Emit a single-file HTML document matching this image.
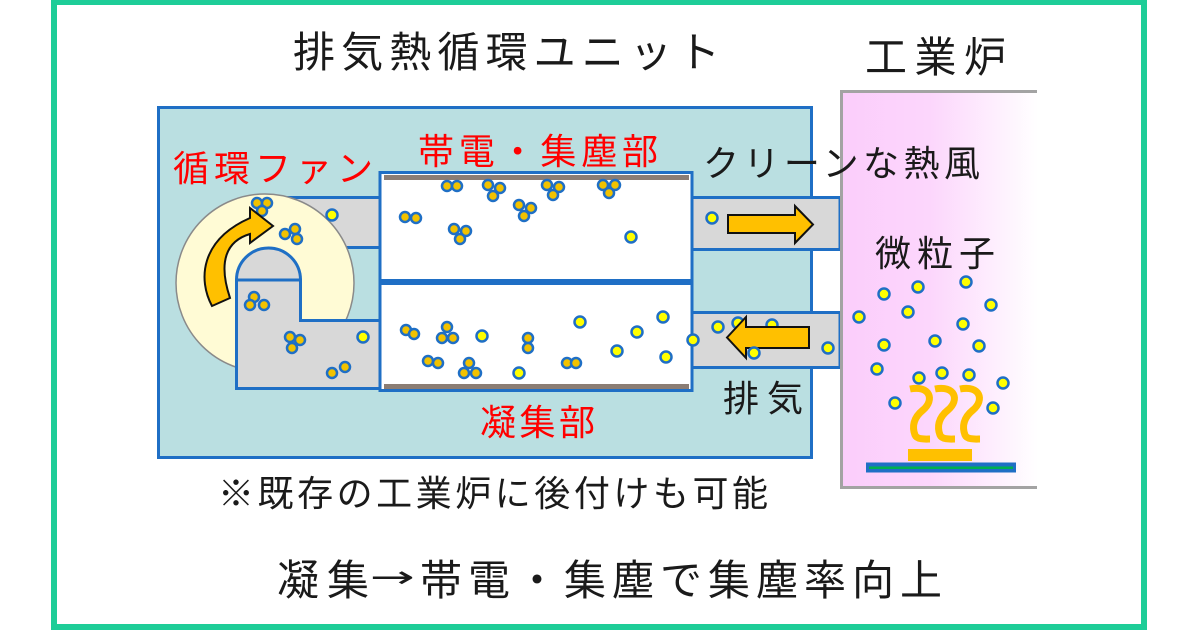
<!DOCTYPE html>
<html>
<head>
<meta charset="utf-8">
<style>
html,body{margin:0;padding:0;background:#fff;}
svg{display:block;}
text{font-family:"Liberation Sans","Noto Sans CJK JP",sans-serif;}
</style>
</head>
<body>
<svg width="1200" height="630" viewBox="0 0 1200 630" xmlns="http://www.w3.org/2000/svg">
<defs>
<linearGradient id="pk" x1="0" y1="0" x2="1" y2="0">
<stop offset="0" stop-color="#fbcdfb"/>
<stop offset="0.45" stop-color="#fcd6fc"/>
<stop offset="1" stop-color="#ffffff"/>
</linearGradient>
</defs>
<rect x="0" y="0" width="1200" height="630" fill="#fff"/>
<!-- green frame -->
<rect x="54" y="2" width="1090" height="625" fill="none" stroke="#1ecd98" stroke-width="6"/>

<!-- unit box -->
<rect x="158.5" y="107.5" width="653" height="350" fill="#badfe1" stroke="#1f6fc5" stroke-width="3"/>

<!-- upper left duct -->
<rect x="280" y="197.5" width="100" height="50" fill="#d8d8d8" stroke="#1f6fc5" stroke-width="3"/>
<!-- fan circle -->
<circle cx="265" cy="283" r="89" fill="#fffbd5" stroke="#8a8a8a" stroke-width="1.5"/>
<!-- lower L duct -->
<path d="M236.5 280 H300.5 V320.5 H380 V388.5 H236.5 Z" fill="#d8d8d8" stroke="#1f6fc5" stroke-width="3"/>
<path d="M236.5 280 A32 32 0 0 1 300.5 280 Z" fill="#d8d8d8" stroke="#1f6fc5" stroke-width="3"/>

<!-- chambers -->
<rect x="380" y="172.5" width="312" height="108" fill="#fff" stroke="#1f6fc5" stroke-width="3"/>
<rect x="380" y="283.5" width="312" height="107" fill="#fff" stroke="#1f6fc5" stroke-width="3"/>
<rect x="384" y="175" width="305" height="5" fill="#8b7d74"/>
<rect x="384" y="384" width="305" height="5" fill="#8b7d74"/>

<!-- right ducts -->
<rect x="692" y="197.5" width="148" height="52" fill="#d8d8d8" stroke="#1f6fc5" stroke-width="3"/>
<rect x="692" y="312.5" width="148" height="55" fill="#d8d8d8" stroke="#1f6fc5" stroke-width="3"/>

<!-- furnace -->
<rect x="841" y="91" width="197" height="397" fill="url(#pk)"/>
<path d="M1037 91.5 H841.5 V487.5 H1037" fill="none" stroke="#a3a3a3" stroke-width="3"/>
<!-- heat squiggles -->
<g fill="none" stroke="#ffc000" stroke-width="7" stroke-linecap="butt">
<path d="M910 389 C930 385,935 400,923 410 C913 418,912 427,915 435 C917 440,927 439,930 439"/>
<path d="M935 389 C955 385,960 400,948 410 C938 418,937 427,940 435 C942 440,952 439,955 439"/>
<path d="M960 389 C980 385,985 400,973 410 C963 418,962 427,965 435 C967 440,977 439,980 439"/>
</g>
<rect x="908" y="449" width="64" height="12" fill="#ffc000"/>
<rect x="866" y="462.5" width="150" height="10" fill="#1f6fc5"/>
<rect x="869" y="466.5" width="144" height="2.5" fill="#00b050"/>

<!-- particles: singles -->
<g fill="#ffff00" stroke="#1f6fc5" stroke-width="2.5">
<circle cx="332" cy="215" r="5.5"/>
<circle cx="363" cy="337" r="5.5"/>
<circle cx="631" cy="237" r="5.5"/>
<circle cx="482" cy="336" r="5.5"/>
<circle cx="580" cy="322" r="5.5"/>
<circle cx="637" cy="332" r="5.5"/>
<circle cx="663" cy="317" r="5.5"/>
<circle cx="617" cy="351" r="5.5"/>
<circle cx="666" cy="357" r="5.5"/>
<circle cx="519" cy="373" r="5.5"/>
<circle cx="693" cy="340" r="5.5"/>
<circle cx="712" cy="218" r="5.5"/>
<circle cx="718" cy="327" r="5.5"/>
<circle cx="738" cy="323" r="5.5"/>
<circle cx="772" cy="325" r="5.5"/>
<circle cx="828" cy="348" r="5.5"/>
<circle cx="859" cy="317" r="5.5"/>
<circle cx="884" cy="294" r="5.5"/>
<circle cx="918" cy="287" r="5.5"/>
<circle cx="966" cy="282" r="5.5"/>
<circle cx="991" cy="305" r="5.5"/>
<circle cx="908" cy="312" r="5.5"/>
<circle cx="963" cy="324" r="5.5"/>
<circle cx="884" cy="345" r="5.5"/>
<circle cx="935" cy="341" r="5.5"/>
<circle cx="979" cy="346" r="5.5"/>
<circle cx="877" cy="369" r="5.5"/>
<circle cx="919" cy="378" r="5.5"/>
<circle cx="942" cy="373" r="5.5"/>
<circle cx="969" cy="375" r="5.5"/>
<circle cx="1003" cy="383" r="5.5"/>
<circle cx="895" cy="403" r="5.5"/>
<circle cx="993" cy="408" r="5.5"/>
</g>
<!-- particles: clusters -->
<g fill="#f2c200" stroke="#1f6fc5" stroke-width="2.5">
<circle cx="257" cy="203" r="5"/><circle cx="267" cy="203" r="5"/><circle cx="262" cy="211" r="5"/>
<circle cx="285" cy="234" r="5"/><circle cx="295" cy="229" r="5"/><circle cx="297" cy="239" r="5"/>
<circle cx="254" cy="297" r="5"/><circle cx="250" cy="305" r="5"/><circle cx="264" cy="305" r="5"/>
<circle cx="290" cy="337" r="5"/><circle cx="300" cy="340" r="5"/><circle cx="292" cy="348" r="5"/>
<circle cx="332" cy="373" r="5"/><circle cx="345" cy="367" r="5"/>
<!-- upper chamber -->
<circle cx="447" cy="186" r="5"/><circle cx="457" cy="186" r="5"/>
<circle cx="488" cy="185" r="5"/><circle cx="500" cy="188" r="5"/><circle cx="493" cy="196" r="5"/>
<circle cx="547" cy="185" r="5"/><circle cx="559" cy="187" r="5"/><circle cx="553" cy="195" r="5"/>
<circle cx="603" cy="185" r="5"/><circle cx="615" cy="185" r="5"/><circle cx="609" cy="193" r="5"/>
<circle cx="405" cy="217" r="5"/><circle cx="416" cy="218" r="5"/>
<circle cx="519" cy="205" r="5"/><circle cx="531" cy="208" r="5"/><circle cx="524" cy="216" r="5"/>
<circle cx="454" cy="229" r="5"/><circle cx="466" cy="231" r="5"/><circle cx="460" cy="239" r="5"/>
<!-- lower chamber -->
<circle cx="406" cy="330" r="5"/><circle cx="414" cy="334" r="5"/>
<circle cx="447" cy="327" r="5"/><circle cx="442" cy="338" r="5"/><circle cx="453" cy="338" r="5"/>
<circle cx="528" cy="338" r="5"/><circle cx="528" cy="348" r="5"/>
<circle cx="428" cy="361" r="5"/><circle cx="438" cy="363" r="5"/>
<circle cx="469" cy="363" r="5"/><circle cx="464" cy="373" r="5"/><circle cx="476" cy="373" r="5"/>
<circle cx="567" cy="363" r="5"/><circle cx="576" cy="363" r="5"/>
</g>

<!-- fan arrow -->
<path d="M212 306 C198 280,200 240,250 218 L250 208 L273 226 L250 243 L250 234 C226 241,218 262,230 298 Z" fill="#ffc000" stroke="#111" stroke-width="2" stroke-linejoin="miter"/>
<!-- duct arrows -->
<path d="M728 215 H795 V206 L813 224.5 L795 243 V233 H728 Z" fill="#ffc000" stroke="#111" stroke-width="2"/>
<path d="M727 337.5 L746 317 V327 H809 V348 H746 V358 Z" fill="#ffc000" stroke="#111" stroke-width="2"/>
<circle cx="754" cy="353" r="5.5" fill="#ffff00" stroke="#1f6fc5" stroke-width="2.5"/>

<!-- texts -->
<g fill="#1a1a1a">
<text x="293" y="67" font-size="42" textLength="427" lengthAdjust="spacing">排気熱循環ユニット</text>
<text x="865" y="72" font-size="42" textLength="141" lengthAdjust="spacing">工業炉</text>
<text x="703" y="176" font-size="36" textLength="277" lengthAdjust="spacing">クリーンな熱風</text>
<text x="875" y="266" font-size="36" textLength="120" lengthAdjust="spacing">微粒子</text>
<text x="723" y="411" font-size="36" textLength="80" lengthAdjust="spacing">排気</text>
<text x="218" y="506" font-size="36" textLength="550" lengthAdjust="spacing">※既存の工業炉に後付けも可能</text>
<text x="277" y="595" font-size="42" textLength="92" lengthAdjust="spacing">凝集</text>
<text x="370" y="587" font-size="30" style="font-family:'DejaVu Sans',sans-serif;font-weight:normal" textLength="45" lengthAdjust="spacingAndGlyphs">→</text>
<text x="420" y="595" font-size="42" textLength="522" lengthAdjust="spacing">帯電・集塵で集塵率向上</text>
</g>
<g fill="#ff0000">
<text x="173" y="181" font-size="36" textLength="200" lengthAdjust="spacing">循環ファン</text>
<text x="418" y="164" font-size="36" textLength="240" lengthAdjust="spacing">帯電・集塵部</text>
<text x="480" y="435" font-size="36" textLength="115" lengthAdjust="spacing">凝集部</text>
</g>
</svg>
</body>
</html>
